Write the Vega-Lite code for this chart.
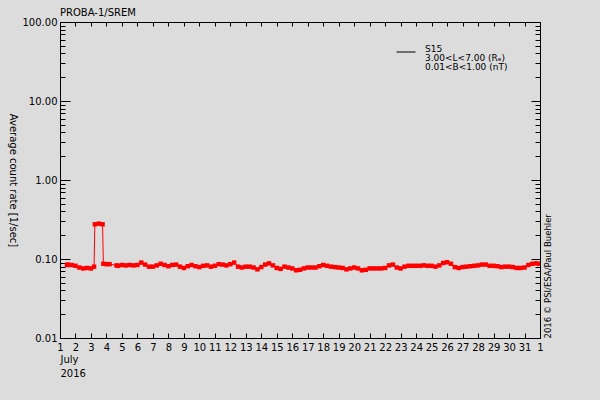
{
  "$schema": "https://vega.github.io/schema/vega-lite/v6.json",
  "width": 480,
  "height": 316,
  "autosize": "none",
  "padding": {"left": 60, "top": 22, "right": 60, "bottom": 62},
  "background": "#dcdcdc",
  "title": {"text": "PROBA-1/SREM", "anchor": "start", "frame": "group", "fontSize": 10, "fontWeight": "normal", "color": "black", "baseline": "bottom", "offset": -11},
  "config": {
    "font": "DejaVu Sans",
    "view": {"stroke": "black", "strokeWidth": 1},
    "axis": {"domainColor": "black", "tickColor": "black", "labelColor": "black", "titleColor": "black", "labelFontSize": 10, "titleFontSize": 10, "titleFontWeight": "normal", "grid": false, "labelOverlap": false}
  },
  "data": {"values": [
    {"day": 1.45, "rate": 0.084}, {"day": 1.5, "rate": 0.085}, {"day": 1.75, "rate": 0.084}, {"day": 2.0, "rate": 0.082},
    {"day": 2.25, "rate": 0.078}, {"day": 2.5, "rate": 0.076}, {"day": 2.75, "rate": 0.077}, {"day": 3.0, "rate": 0.076},
    {"day": 3.2, "rate": 0.080}, {"day": 3.25, "rate": 0.275}, {"day": 3.5, "rate": 0.28}, {"day": 3.75, "rate": 0.275},
    {"day": 3.8, "rate": 0.087}, {"day": 4.0, "rate": 0.086}, {"day": 4.2, "rate": 0.086}, {"day": 4.65, "rate": 0.083},
    {"day": 4.75, "rate": 0.082}, {"day": 5.0, "rate": 0.084}, {"day": 5.25, "rate": 0.083}, {"day": 5.5, "rate": 0.084},
    {"day": 5.75, "rate": 0.083}, {"day": 6.0, "rate": 0.084}, {"day": 6.25, "rate": 0.090}, {"day": 6.5, "rate": 0.085},
    {"day": 6.75, "rate": 0.080}, {"day": 7.0, "rate": 0.080}, {"day": 7.25, "rate": 0.083}, {"day": 7.5, "rate": 0.087},
    {"day": 7.75, "rate": 0.084}, {"day": 8.0, "rate": 0.081}, {"day": 8.25, "rate": 0.084}, {"day": 8.5, "rate": 0.085},
    {"day": 8.75, "rate": 0.080}, {"day": 9.0, "rate": 0.077}, {"day": 9.25, "rate": 0.081}, {"day": 9.5, "rate": 0.084},
    {"day": 9.75, "rate": 0.081}, {"day": 10.0, "rate": 0.079}, {"day": 10.25, "rate": 0.082}, {"day": 10.5, "rate": 0.083},
    {"day": 10.75, "rate": 0.080}, {"day": 11.0, "rate": 0.082}, {"day": 11.25, "rate": 0.086}, {"day": 11.5, "rate": 0.085},
    {"day": 11.75, "rate": 0.083}, {"day": 12.0, "rate": 0.086}, {"day": 12.25, "rate": 0.090}, {"day": 12.5, "rate": 0.080},
    {"day": 12.75, "rate": 0.078}, {"day": 13.0, "rate": 0.080}, {"day": 13.25, "rate": 0.080}, {"day": 13.5, "rate": 0.078},
    {"day": 13.75, "rate": 0.074}, {"day": 14.0, "rate": 0.079}, {"day": 14.25, "rate": 0.085}, {"day": 14.5, "rate": 0.088},
    {"day": 14.75, "rate": 0.083}, {"day": 15.0, "rate": 0.077}, {"day": 15.25, "rate": 0.075}, {"day": 15.5, "rate": 0.080},
    {"day": 15.75, "rate": 0.078}, {"day": 16.0, "rate": 0.076}, {"day": 16.25, "rate": 0.072}, {"day": 16.5, "rate": 0.073},
    {"day": 16.75, "rate": 0.076}, {"day": 17.0, "rate": 0.078}, {"day": 17.25, "rate": 0.078}, {"day": 17.5, "rate": 0.078},
    {"day": 17.75, "rate": 0.081}, {"day": 18.0, "rate": 0.084}, {"day": 18.25, "rate": 0.082}, {"day": 18.5, "rate": 0.080},
    {"day": 18.75, "rate": 0.079}, {"day": 19.0, "rate": 0.078}, {"day": 19.25, "rate": 0.077}, {"day": 19.5, "rate": 0.074},
    {"day": 19.75, "rate": 0.076}, {"day": 20.0, "rate": 0.078}, {"day": 20.25, "rate": 0.076}, {"day": 20.5, "rate": 0.072},
    {"day": 20.75, "rate": 0.073}, {"day": 21.0, "rate": 0.076}, {"day": 21.25, "rate": 0.076}, {"day": 21.5, "rate": 0.076},
    {"day": 21.75, "rate": 0.076}, {"day": 22.0, "rate": 0.077}, {"day": 22.25, "rate": 0.083}, {"day": 22.5, "rate": 0.085},
    {"day": 22.75, "rate": 0.078}, {"day": 23.0, "rate": 0.076}, {"day": 23.25, "rate": 0.080}, {"day": 23.5, "rate": 0.082},
    {"day": 23.75, "rate": 0.082}, {"day": 24.0, "rate": 0.082}, {"day": 24.25, "rate": 0.082}, {"day": 24.5, "rate": 0.083},
    {"day": 24.75, "rate": 0.082}, {"day": 25.0, "rate": 0.082}, {"day": 25.25, "rate": 0.080}, {"day": 25.5, "rate": 0.083},
    {"day": 25.75, "rate": 0.089}, {"day": 26.0, "rate": 0.091}, {"day": 26.25, "rate": 0.087}, {"day": 26.5, "rate": 0.079},
    {"day": 26.75, "rate": 0.077}, {"day": 27.0, "rate": 0.079}, {"day": 27.25, "rate": 0.080}, {"day": 27.5, "rate": 0.081},
    {"day": 27.75, "rate": 0.082}, {"day": 28.0, "rate": 0.083}, {"day": 28.25, "rate": 0.085}, {"day": 28.5, "rate": 0.085},
    {"day": 28.75, "rate": 0.082}, {"day": 29.0, "rate": 0.082}, {"day": 29.25, "rate": 0.081}, {"day": 29.5, "rate": 0.079},
    {"day": 29.75, "rate": 0.080}, {"day": 30.0, "rate": 0.080}, {"day": 30.25, "rate": 0.079}, {"day": 30.5, "rate": 0.077},
    {"day": 30.75, "rate": 0.077}, {"day": 31.0, "rate": 0.078}, {"day": 31.25, "rate": 0.084}, {"day": 31.5, "rate": 0.087},
    {"day": 31.75, "rate": 0.088}, {"day": 31.95, "rate": 0.087}
  ]},
  "layer": [
    {
      "mark": {"type": "line", "strokeWidth": 1, "color": "#ff0000", "clip": true},
      "encoding": {
        "x": {
          "field": "day", "type": "quantitative",
          "scale": {"domain": [1, 32], "nice": false, "zero": false},
          "axis": {
            "orient": "bottom",
            "values": [1,2,3,4,5,6,7,8,9,10,11,12,13,14,15,16,17,18,19,20,21,22,23,24,25,26,27,28,29,30,31,32],
            "labelExpr": "datum.value == 32 ? '1' : toString(datum.value)",
            "tickSize": -5, "labelPadding": 9, "labelFlush": false,
            "title": ["July", "2016"], "titleAnchor": "start", "titleAlign": "left", "titleBaseline": "top",
            "titlePadding": 2, "titleLineHeight": 14
          }
        },
        "y": {
          "field": "rate", "type": "quantitative",
          "scale": {"type": "log", "domain": [0.01, 100], "nice": false},
          "axis": {
            "orient": "left",
            "values": [0.01,0.02,0.03,0.04,0.05,0.06,0.07,0.08,0.09,0.1,0.2,0.3,0.4,0.5,0.6,0.7,0.8,0.9,1,2,3,4,5,6,7,8,9,10,20,30,40,50,60,70,80,90,100],
            "tickSize": {"condition": {"test": "indexof([0.01,0.1,1,10,100], datum.value) >= 0", "value": -10}, "value": -5},
            "labelExpr": "indexof([0.01,0.1,1,10,100], datum.value) >= 0 ? format(datum.value, '.2f') : ''",
            "labelPadding": 13,
            "title": "Average count rate [1/sec]", "titleAngle": 90, "titleX": -48, "titleY": 158,
            "titleAlign": "center", "titleBaseline": "middle"
          }
        }
      }
    },
    {
      "mark": {"type": "point", "shape": "square", "size": 20, "filled": true, "color": "#ff0000", "opacity": 1, "clip": true},
      "encoding": {
        "x": {
          "field": "day", "type": "quantitative",
          "axis": {
            "orient": "top",
            "values": [1,2,3,4,5,6,7,8,9,10,11,12,13,14,15,16,17,18,19,20,21,22,23,24,25,26,27,28,29,30,31,32],
            "tickSize": -4, "labels": false, "title": null
          }
        },
        "y": {
          "field": "rate", "type": "quantitative",
          "axis": {
            "orient": "right",
            "values": [0.01,0.02,0.03,0.04,0.05,0.06,0.07,0.08,0.09,0.1,0.2,0.3,0.4,0.5,0.6,0.7,0.8,0.9,1,2,3,4,5,6,7,8,9,10,20,30,40,50,60,70,80,90,100],
            "tickSize": {"condition": {"test": "indexof([0.01,0.1,1,10,100], datum.value) >= 0", "value": -9}, "value": -5},
            "labels": false,
            "title": "2016 © PSI/ESA/Paul Buehler", "titleAngle": 270, "titleFontSize": 8.5,
            "titleX": 7, "titleY": 316, "titleAlign": "left", "titleBaseline": "middle"
          }
        }
      }
    },
    {
      "mark": {"type": "line", "strokeWidth": 1, "strokeOpacity": 0, "clip": true},
      "encoding": {
        "x": {"field": "day", "type": "quantitative", "axis": null},
        "y": {"field": "rate", "type": "quantitative", "axis": null},
        "color": {
          "datum": "S15",
          "scale": {"range": ["black"]},
          "legend": {
            "orient": "none", "legendX": 336, "legendY": 20, "padding": 0, "title": null,
            "symbolType": "stroke", "symbolSize": 361, "symbolStrokeWidth": 1, "symbolOpacity": 1,
            "labelExpr": "['S15', '3.00<L<7.00 (Rₑ)', '0.01<B<1.00 (nT)']",
            "labelFontSize": 9, "labelColor": "black", "labelOffset": 9, "labelBaseline": "alphabetic",
            "encode": {"labels": {"update": {"lineHeight": {"value": 9}}}}
          }
        }
      }
    }
  ],
  "resolve": {"axis": {"x": "independent", "y": "independent"}}
}
